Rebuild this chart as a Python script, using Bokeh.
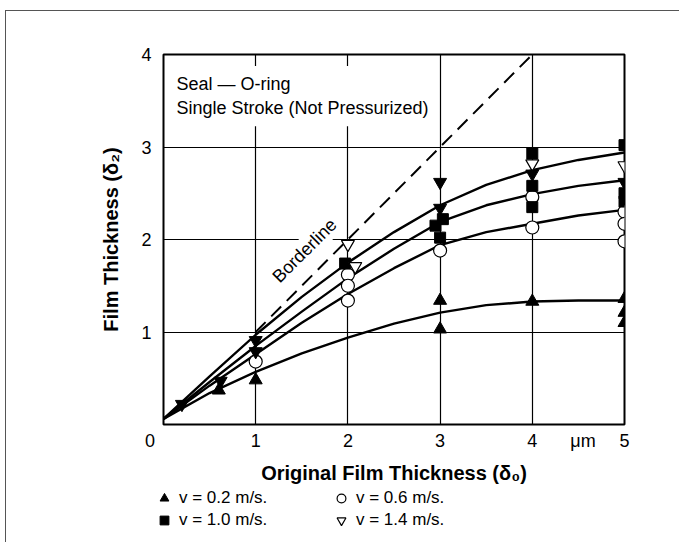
import math
from bokeh.plotting import figure
from bokeh.models import Label, Legend, LegendItem, FixedTicker
from bokeh.embed import file_html
from bokeh.resources import INLINE

# ---- data ----
curve_x = [0, 0.5, 1, 1.5, 2, 2.5, 3, 3.5, 4, 4.5, 5]
curve_top = [0.06, 0.52, 0.97, 1.38, 1.75, 2.08, 2.37, 2.59, 2.75, 2.86, 2.94]
curve_second = [0.06, 0.46, 0.85, 1.22, 1.58, 1.90, 2.19, 2.37, 2.49, 2.58, 2.64]
curve_third = [0.06, 0.42, 0.76, 1.10, 1.41, 1.69, 1.94, 2.08, 2.17, 2.26, 2.32]
curve_bottom = [0.06, 0.34, 0.57, 0.77, 0.94, 1.09, 1.21, 1.29, 1.33, 1.34, 1.34]

border_x = [1, 4]
border_y = [1, 4]

v02_x = [0.6, 1, 3, 3, 4, 5, 5, 5]
v02_y = [0.37, 0.48, 1.34, 1.03, 1.33, 1.36, 1.21, 1.10]

v06_x = [1, 2, 2, 2, 3, 4, 4, 5, 5, 5]
v06_y = [0.68, 1.62, 1.50, 1.34, 1.88, 2.46, 2.13, 2.30, 2.17, 1.98]

v10_x = [1.97, 2.95, 3.03, 3.0, 4, 4, 4, 5, 5, 5]
v10_y = [1.74, 2.15, 2.22, 2.02, 2.93, 2.58, 2.35, 3.02, 2.50, 2.41]

v14_x = [2, 2.08, 4, 5]
v14_y = [1.95, 1.71, 2.82, 2.80]

vdown_x = [0.2, 0.62, 1, 1, 3, 3, 4, 5]
vdown_y = [0.22, 0.47, 0.91, 0.79, 2.62, 2.34, 2.71, 2.62]

x_ticks = [0, 1, 2, 3, 4, 5]
y_ticks = [0, 1, 2, 3, 4]
unit_tick = 4.55          # where the "μm" unit sits on the x axis
unit_text = "μm"

legend_labels = ["v = 0.2 m/s.", "v = 0.6 m/s.", "v = 1.0 m/s.", "v = 1.4 m/s."]

FONT = "Liberation Sans"
W = 674

p = figure(width=W, height=475, x_range=(0, 5), y_range=(0, 4),
           output_backend="svg", toolbar_location=None,
           min_border_left=157, min_border_right=56,
           min_border_top=43, min_border_bottom=62)
p.styles = {"border-top": "1px solid #555", "border-left": "1px solid #555",
            "margin-left": "5px", "margin-top": "10px"}
p.background_fill_color = "white"
p.border_fill_color = "white"
p.outline_line_color = "black"
p.outline_line_width = 2
p.outline_line_alpha = 1

p.xaxis.ticker = FixedTicker(ticks=x_ticks + [unit_tick])
p.yaxis.ticker = FixedTicker(ticks=y_ticks)
# the shared origin "0" sits at the corner, a little left of the x = 0 tick
p.xaxis.major_label_overrides = {0: "0\u2003\u2002", unit_tick: unit_text}
p.yaxis.major_label_overrides = {0: ""}
for ax in (p.xaxis, p.yaxis):
    ax.axis_line_color = None
    ax.major_tick_line_color = None
    ax.minor_tick_line_color = None
    ax.major_label_text_font = FONT
    ax.major_label_text_font_size = "18px"
    ax.major_label_text_color = "black"
    ax.axis_label_text_font = FONT
    ax.axis_label_text_font_style = "bold"
    ax.axis_label_text_font_size = "20px"
    ax.axis_label_text_color = "black"
p.xaxis.major_label_standoff = 0
p.yaxis.major_label_standoff = 6
p.xaxis.axis_label = "Original Film Thickness (δ₀)"
p.yaxis.axis_label = "Film Thickness (δ₂)"
p.xaxis.axis_label_standoff = 8
p.yaxis.axis_label_standoff = 16

p.xgrid.ticker = FixedTicker(ticks=x_ticks)
p.ygrid.ticker = FixedTicker(ticks=y_ticks)
for g in (p.xgrid, p.ygrid):
    g.grid_line_color = "black"
    g.grid_line_width = 1.2
    g.grid_line_alpha = 1

# curves
for cy in (curve_top, curve_second, curve_third, curve_bottom):
    p.line(curve_x, cy, line_color="black", line_width=2.4)
p.line(border_x, border_y, line_color="black", line_width=2, line_dash="14 8")

# markers
styles = {
    "v02": dict(marker="triangle", size=13, fill_color="black", line_color="black"),
    "v06": dict(marker="circle", size=13, fill_color="white", line_color="black", line_width=1.2),
    "v10": dict(marker="square", size=11, fill_color="black", line_color="black"),
    "v14": dict(marker="inverted_triangle", size=13, fill_color="white", line_color="black", line_width=1.2),
}
series = {"v02": (v02_x, v02_y), "v06": (v06_x, v06_y),
          "v10": (v10_x, v10_y), "v14": (v14_x, v14_y)}
for key, (sx, sy) in series.items():
    p.scatter(sx, sy, **styles[key])
p.scatter(vdown_x, vdown_y, marker="inverted_triangle", size=13, fill_color="black", line_color="black")

# annotations
p.add_layout(Label(x=0.054, y=3.876, text="Seal — O-ring\nSingle Stroke (Not Pressurized)",
                   text_font=FONT, text_font_size="18px", text_color="black",
                   text_baseline="top", text_align="left", text_line_height=1.22,
                   background_fill_color="white", padding=8))
p.add_layout(Label(x=1.53, y=1.88, text="Borderline", angle=math.pi / 4,
                   text_font=FONT, text_font_size="18px", text_color="black",
                   text_baseline="middle", text_align="center",
                   background_fill_color="white", padding=2))

# legend strip below the chart (its own root, so it is not aligned to the chart frame)
LH = 57
GH = 22
lp = figure(width=W, height=LH, x_range=(0, 1), y_range=(0, 1),
            x_axis_type=None, y_axis_type=None,
            output_backend="svg", toolbar_location=None, min_border=0)
lp.styles = {"border-left": "1px solid #555", "margin-left": "5px"}
lp.outline_line_color = None
lp.grid.visible = False
lp.background_fill_color = "white"
lp.border_fill_color = "white"
legend_renderers = {}
for key, (sx, sy) in series.items():
    r = lp.scatter(sx, sy, **styles[key])
    r.visible = False          # only its legend swatch is shown here
    legend_renderers[key] = r
order = [("v02", 0), ("v10", 2), ("v06", 1), ("v14", 3)]   # column-major fill
items = [LegendItem(label=legend_labels[i], renderers=[legend_renderers[k]]) for k, i in order]
legend = Legend(items=items, ncols=2, location=(143, LH - 2 * GH - 2),
                border_line_color=None, background_fill_alpha=0,
                padding=0, margin=0, spacing=0,
                glyph_width=30, glyph_height=GH, label_standoff=0, label_width=147,
                label_text_font=FONT, label_text_font_size="17px",
                label_text_color="black")
lp.add_layout(legend, "center")

open("out.html", "w").write(file_html([p, lp], INLINE))
